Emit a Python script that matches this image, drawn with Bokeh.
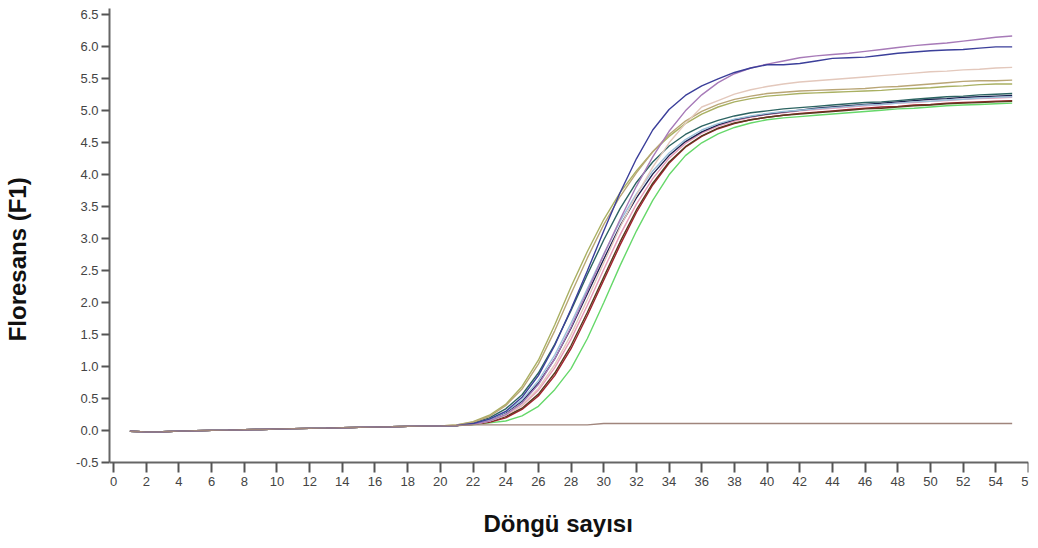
from bokeh.plotting import figure
from bokeh.models import FixedTicker, PrintfTickFormatter, Title
from bokeh.embed import file_html
from bokeh.resources import INLINE

# ---------------- data ----------------
cycles = list(range(1, 56))
x_ticks = list(range(0, 57, 2))
y_ticks = [-0.5, 0.0, 0.5, 1.0, 1.5, 2.0, 2.5, 3.0, 3.5, 4.0, 4.5, 5.0, 5.5, 6.0, 6.5]

# shared baseline, cycles 1-20
baseline = [-0.01, -0.02, -0.018, -0.008, -0.002, 0.004, 0.008, 0.013, 0.018, 0.024,
            0.03, 0.034, 0.038, 0.044, 0.05, 0.055, 0.06, 0.066, 0.07, 0.074]

# cycles 21-55 for each sample
green = [0.08, 0.09, 0.12, 0.15, 0.23, 0.38, 0.64, 0.97, 1.44, 2.00, 2.58, 3.12, 3.60, 4.00, 4.30,
         4.50, 4.64, 4.74, 4.81, 4.86, 4.89, 4.91, 4.93, 4.95, 4.97, 4.99, 5.01, 5.03, 5.04, 5.06,
         5.08, 5.09, 5.10, 5.11, 5.12]
red = [0.08, 0.10, 0.13, 0.20, 0.33, 0.54, 0.86, 1.28, 1.80, 2.35, 2.90, 3.41, 3.84, 4.18, 4.43,
       4.60, 4.72, 4.80, 4.86, 4.90, 4.93, 4.96, 4.98, 5.00, 5.02, 5.04, 5.06, 5.07, 5.09, 5.10,
       5.12, 5.13, 5.14, 5.15, 5.16]
brown = [0.08, 0.10, 0.14, 0.22, 0.35, 0.57, 0.90, 1.33, 1.85, 2.40, 2.95, 3.45, 3.87, 4.20, 4.44,
         4.61, 4.73, 4.81, 4.86, 4.90, 4.93, 4.95, 4.97, 4.99, 5.01, 5.03, 5.04, 5.06, 5.08, 5.09,
         5.11, 5.12, 5.13, 5.14, 5.15]
pink = [0.08, 0.10, 0.15, 0.24, 0.39, 0.63, 0.98, 1.43, 1.96, 2.52, 3.06, 3.54, 3.94, 4.26, 4.49,
        4.65, 4.76, 4.84, 4.90, 4.94, 4.97, 5.00, 5.02, 5.04, 5.06, 5.08, 5.10, 5.12, 5.13, 5.15,
        5.16, 5.18, 5.19, 5.20, 5.21]
navy = [0.08, 0.11, 0.17, 0.28, 0.46, 0.74, 1.12, 1.60, 2.14, 2.68, 3.20, 3.64, 4.01, 4.30, 4.52,
        4.67, 4.78, 4.86, 4.91, 4.95, 4.98, 5.01, 5.04, 5.06, 5.08, 5.10, 5.12, 5.14, 5.16, 5.18,
        5.19, 5.21, 5.22, 5.23, 5.24]
lightblue = [0.08, 0.11, 0.17, 0.29, 0.48, 0.78, 1.18, 1.68, 2.22, 2.76, 3.27, 3.70, 4.06, 4.34, 4.55,
             4.70, 4.80, 4.87, 4.92, 4.96, 4.99, 5.01, 5.03, 5.05, 5.07, 5.09, 5.10, 5.12, 5.14, 5.15,
             5.17, 5.18, 5.20, 5.21, 5.22]
teal = [0.08, 0.12, 0.20, 0.34, 0.56, 0.90, 1.35, 1.88, 2.44, 2.98, 3.47, 3.88, 4.20, 4.45, 4.63,
        4.76, 4.85, 4.92, 4.97, 5.00, 5.03, 5.05, 5.07, 5.09, 5.11, 5.13, 5.14, 5.16, 5.18, 5.20,
        5.22, 5.23, 5.25, 5.26, 5.27]
olive = [0.09, 0.14, 0.24, 0.41, 0.69, 1.10, 1.65, 2.25, 2.80, 3.30, 3.72, 4.06, 4.36, 4.60, 4.80,
         4.95, 5.06, 5.14, 5.19, 5.23, 5.25, 5.27, 5.28, 5.29, 5.30, 5.31, 5.32, 5.34, 5.35, 5.36,
         5.38, 5.39, 5.41, 5.42, 5.42]
khaki = [0.09, 0.13, 0.22, 0.39, 0.65, 1.04, 1.56, 2.14, 2.70, 3.22, 3.66, 4.03, 4.36, 4.63, 4.84,
         4.99, 5.10, 5.18, 5.23, 5.27, 5.29, 5.31, 5.32, 5.33, 5.34, 5.35, 5.37, 5.38, 5.40, 5.42,
         5.44, 5.46, 5.47, 5.47, 5.48]
beige = [0.08, 0.10, 0.15, 0.24, 0.40, 0.66, 1.03, 1.50, 2.05, 2.62, 3.18, 3.68, 4.12, 4.50, 4.80,
         5.06, 5.16, 5.26, 5.33, 5.38, 5.42, 5.45, 5.47, 5.49, 5.51, 5.53, 5.55, 5.57, 5.59, 5.61,
         5.62, 5.64, 5.65, 5.67, 5.68]
violet = [0.08, 0.10, 0.15, 0.25, 0.43, 0.72, 1.12, 1.62, 2.18, 2.75, 3.30, 3.82, 4.28, 4.68, 5.00,
          5.25, 5.44, 5.58, 5.67, 5.73, 5.78, 5.83, 5.86, 5.88, 5.90, 5.93, 5.96, 5.99, 6.02, 6.04,
          6.06, 6.09, 6.12, 6.15, 6.17]
blue = [0.08, 0.11, 0.18, 0.30, 0.52, 0.86, 1.33, 1.90, 2.50, 3.12, 3.72, 4.25, 4.70, 5.02, 5.24,
        5.39, 5.50, 5.60, 5.67, 5.72, 5.72, 5.74, 5.78, 5.82, 5.83, 5.84, 5.87, 5.90, 5.92, 5.94,
        5.95, 5.96, 5.98, 6.00, 6.00]
negative = [0.08, 0.09, 0.09, 0.09, 0.09, 0.09, 0.09, 0.09, 0.09, 0.11, 0.11, 0.11, 0.11, 0.11, 0.11,
            0.11, 0.11, 0.11, 0.11, 0.11, 0.11, 0.11, 0.11, 0.11, 0.11, 0.11, 0.11, 0.11, 0.11, 0.11,
            0.11, 0.11, 0.11, 0.11, 0.11]

series = [
    (green, "#66d86a"),
    (red, "#a3202e"),
    (brown, "#5a3a1e"),
    (pink, "#e69ab8"),
    (navy, "#1b2150"),
    (lightblue, "#9cc0da"),
    (teal, "#2c6462"),
    (olive, "#a9b062"),
    (khaki, "#b9a676"),
    (beige, "#e3c8bc"),
    (violet, "#a77ab8"),
    (blue, "#3b3f9a"),
    (negative, "#a0857c"),
]

x_title = "Döngü sayısı"
y_title = "Floresans  (F1)"

# ---------------- figure ----------------
p = figure(width=1036, height=546, x_range=(-0.25, 56), y_range=(-1.14, 6.6),
           output_backend="svg", toolbar_location=None,
           min_border_left=109, min_border_right=8, min_border_top=8, min_border_bottom=43)
p.outline_line_color = None
p.xgrid.visible = False
p.ygrid.visible = False
p.background_fill_color = "white"
p.border_fill_color = "white"

for vals, col in series:
    p.line(cycles, baseline + vals, line_color=col, line_width=1.4)

for ax in (p.xaxis[0], p.yaxis[0]):
    ax.axis_line_color = "#666666"
    ax.axis_line_width = 2
    ax.major_tick_line_color = "#555555"
    ax.major_tick_line_width = 2
    ax.major_tick_in = 0
    ax.minor_tick_line_color = None
    ax.major_label_text_font = "Liberation Sans"
    ax.major_label_text_font_size = "13px"
    ax.major_label_text_color = "#444444"
    ax.axis_label_text_font = "Liberation Sans"
    ax.axis_label_text_font_size = "24px"
    ax.axis_label_text_font_style = "bold"
    ax.axis_label_text_color = "#111111"

# x axis drawn at y = -0.5 inside the (taller) frame
p.xaxis[0].ticker = FixedTicker(ticks=x_ticks)
p.xaxis[0].fixed_location = -0.5
p.xaxis[0].bounds = (-0.25, 56)
p.xaxis[0].major_tick_out = 10
p.xaxis[0].major_label_standoff = 4

p.yaxis[0].ticker = FixedTicker(ticks=y_ticks)
p.yaxis[0].formatter = PrintfTickFormatter(format="%.1f")
p.yaxis[0].bounds = (-0.5, 6.6)
p.yaxis[0].major_tick_out = 8
p.yaxis[0].major_label_standoff = 3
p.yaxis[0].axis_label = y_title
p.yaxis[0].axis_label_standoff = 42

p.add_layout(Title(text=x_title, align="left", offset=374, text_font="Liberation Sans",
                   text_font_size="24px", text_font_style="bold", text_color="#111111",
                   standoff=8), "below")

open("out.html", "w").write(file_html(p, INLINE))
